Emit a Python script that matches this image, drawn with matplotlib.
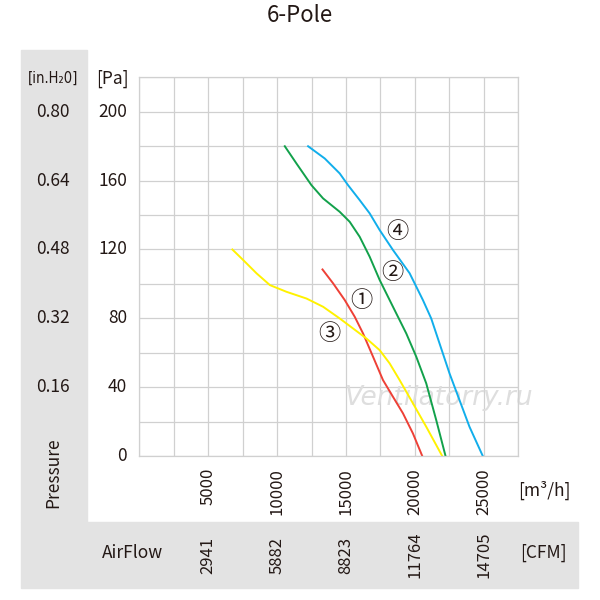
import matplotlib
matplotlib.use("Agg")
import matplotlib.pyplot as plt
import matplotlib.transforms as mtransforms
from matplotlib.patches import Rectangle

plt.rcParams['font.family'] = ['Noto Sans CJK SC', 'DejaVu Sans']

TXT = '#231815'

# Data (airflow m3/h, pressure Pa)
curve1_x = [13292, 14064, 14908, 15632, 16236, 16959, 17683, 18407, 19131, 19855, 20531]
curve1_y = [108.4, 100.3, 90.6, 80.9, 71.2, 57.7, 44.1, 34.4, 24.8, 13.1, 0]
curve2_x = [10556, 11401, 12488, 13333, 14541, 15266, 15990, 16715, 17440, 18407, 19372, 20096, 20820, 21544, 22220]
curve2_y = [180, 170, 157.4, 149.7, 141.9, 136.1, 127.4, 115.8, 102.3, 86.7, 71.2, 57.7, 42.2, 20.9, 0]
curve3_x = [6752, 7548, 8513, 9479, 10685, 12133, 13340, 14546, 15511, 16477, 17442, 18166, 18890, 19855, 20820, 21978]
curve3_y = [120, 113.8, 106.1, 99.3, 95.4, 91.5, 86.7, 79.9, 74.1, 68.3, 61.5, 53.8, 44.1, 30.6, 17.0, 0]
curve4_x = [12246, 13454, 14541, 15145, 15990, 16715, 17440, 18406, 19614, 20579, 21182, 21785, 22509, 23233, 23957, 24923]
curve4_y = [180, 172.9, 164.2, 157.4, 148.7, 141.0, 131.3, 119.7, 106.2, 90.6, 79.9, 65.4, 48.0, 32.5, 17.0, 0]

labels = ['①', '②', '③', '④']
label_x = [16140, 18360, 13795, 18700]
label_y = [90.2, 106.5, 71.3, 130.3]

xticks_m3h = [5000, 10000, 15000, 20000, 25000]
xticks_cfm = ['2941', '5882', '8823', '11764', '14705']
yticks_pa = [0, 40, 80, 120, 160, 200]
yticks_inh2o = ['0.16', '0.32', '0.48', '0.64', '0.80']

fig = plt.figure(figsize=(6, 6), dpi=100)

# gray background L-shape
fig.patches.append(Rectangle((21/600, 1-522/600), (87-21)/600, (522-50)/600,
                             transform=fig.transFigure, color='#e3e3e3', zorder=-5))
fig.patches.append(Rectangle((21/600, 1-588/600), (578-21)/600, (588-522)/600,
                             transform=fig.transFigure, color='#e3e3e3', zorder=-5))

ax = fig.add_axes([139.3/600, 1-456/600, 379/600, (456-77.4)/600])
ax.set_zorder(1)
ax.patch.set_alpha(0)
ax.set_xlim(0, 27500)
ax.set_ylim(0, 220)
ax.set_xticks(range(0, 27501, 2500))
ax.set_yticks(range(0, 221, 20))
ax.grid(True, color='#d0d0d0', linewidth=0.9)
ax.set_axisbelow(True)
for s in ax.spines.values():
    s.set_color('#d0d0d0')
    s.set_linewidth(0.9)
ax.tick_params(length=0, labelbottom=False, labelleft=False)

ytr = mtransforms.blended_transform_factory(ax.transAxes, ax.transData)
for v in yticks_pa:
    ax.text(-0.032, v, str(v), transform=ytr, ha='right', va='center',
            fontsize=12.5, color=TXT)

ax.plot(curve1_x, curve1_y, color='#ee4036', lw=1.4)
ax.plot(curve2_x, curve2_y, color='#12a14b', lw=1.4)
ax.plot(curve3_x, curve3_y, color='#fff200', lw=1.4)
ax.plot(curve4_x, curve4_y, color='#11aeeb', lw=1.4)

for t, x, y in zip(labels, label_x, label_y):
    ax.text(x, y, t, ha='center', va='center', fontsize=16, color=TXT, weight='medium')

# watermark
ax.text(21750, 33.5, 'Ventilatorry.ru', fontsize=19, style='italic', color='#dedede',
        ha='center', va='center', family=['DejaVu Sans'], zorder=1)

bx = mtransforms.blended_transform_factory(ax.transData, fig.transFigure)
for v, c in zip(xticks_m3h, xticks_cfm):
    ax.text(v, 1-468/600, str(v), transform=bx, rotation=90, ha='center', va='top',
            fontsize=12, color=TXT)
    ax.text(v, 1-555/600, c, transform=bx, rotation=90, ha='center', va='center',
            fontsize=12, color=TXT)

by = mtransforms.blended_transform_factory(fig.transFigure, ax.transData)
for v, t in zip(yticks_pa[1:], yticks_inh2o):
    ax.text(53/600, v, t, transform=by, ha='center', va='center', fontsize=12.5, color=TXT)

fig.text(53/600, 1-78/600, '[in.H₂0]', ha='center', va='center', fontsize=10.5, color=TXT,
         family=['DejaVu Sans'], fontstretch='condensed')
fig.text(112/600, 1-79/600, '[Pa]', ha='center', va='center', fontsize=12.5, color=TXT)
fig.text(53/600, 1-473/600, 'Pressure', rotation=90, ha='center', va='center', fontsize=12.5, color=TXT)
fig.text(544/600, 1-490/600, '[m³/h]', ha='center', va='center', fontsize=12.5, color=TXT)
fig.text(132/600, 1-553/600, 'AirFlow', ha='center', va='center', fontsize=12.5, color=TXT)
fig.text(543/600, 1-553/600, '[CFM]', ha='center', va='center', fontsize=12.5, color=TXT)
fig.text(300/600, 1-16/600, '6-Pole', ha='center', va='center', fontsize=16, color=TXT)

fig.savefig('out.png', dpi=100)
